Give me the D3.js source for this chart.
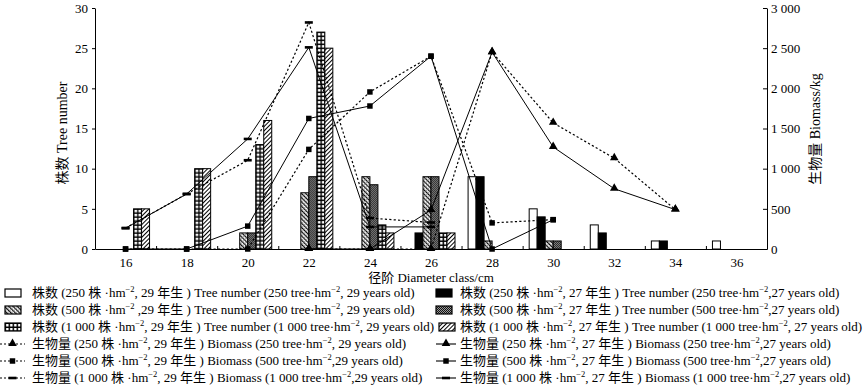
<!DOCTYPE html>
<html><head><meta charset="utf-8">
<script src="https://cdn.jsdelivr.net/npm/d3@7/dist/d3.min.js"></script>
<style>
html,body{margin:0;padding:0;background:#fff;}
svg{display:block;}
text{font-family:"Liberation Serif","Noto Sans CJK SC",serif;fill:#000;}
</style></head>
<body>
<svg id="chart" width="866" height="388"></svg>
<script>
// ---------- data ----------
const diameterClasses = [16, 18, 20, 22, 24, 26, 28, 30, 32, 34, 36];
const xMinorTicks = [17, 19, 21, 23, 25, 27, 29, 31, 33, 35];
const leftTicks = [0, 5, 10, 15, 20, 25, 30];
const rightTicks = [0, 500, 1000, 1500, 2000, 2500, 3000];

const trees250y29  = [0, 0, 0, 0, 0, 0, 9, 5, 3, 1, 1];
const trees250y27  = [0, 0, 0, 0, 0, 2, 9, 4, 2, 1, 0];
const trees500y29  = [0, 0, 2, 7, 9, 9, 1, 1, 0, 0, 0];
const trees500y27  = [0, 0, 2, 9, 8, 9, 0, 1, 0, 0, 0];
const trees1000y29 = [5, 10, 13, 27, 3, 2, 0, 0, 0, 0, 0];
const trees1000y27 = [5, 10, 16, 25, 2, 2, 0, 0, 0, 0, 0];

const biomass250y29  = [null, null, null, 0, 0, 0, 2450, 1570, 1130, 490, null];
const biomass250y27  = [null, null, null, 0, 0, 485, 2450, 1270, 750, 490, null];
const biomass500y29  = [0, 0, 0, 1240, 1955, 2400, 325, 365, null, null, null];
const biomass500y27  = [0, 0, 285, 1625, 1780, 2400, 0, 365, null, null, null];
const biomass1000y29 = [260, 685, 1105, 2820, 385, 330, null, null, null, null, null];
const biomass1000y27 = [260, 685, 1370, 2510, 275, 275, null, null, null, null, null];

const barSeries = [
  {key: "b250_29", values: trees250y29, fill: "white",
   label: "株数 (250 株 ·hm^−2^, 29 年生 ) Tree number (250 tree·hm^−2^, 29 years old)"},
  {key: "b250_27", values: trees250y27, fill: "black",
   label: "株数 (250 株 ·hm^−2^, 27 年生 ) Tree number (250  tree·hm^−2^,27 years old)"},
  {key: "b500_29", values: trees500y29, fill: "cross",
   label: "株数 (500 株 ·hm^−2^ ,29 年生 ) Tree number (500 tree·hm^−2^, 29 years old)"},
  {key: "b500_27", values: trees500y27, fill: "check",
   label: "株数 (500 株 ·hm^−2^, 27 年生 ) Tree number (500  tree·hm^−2^,27 years old)"},
  {key: "b1000_29", values: trees1000y29, fill: "brick",
   label: "株数 (1 000 株 ·hm^−2^, 29 年生 ) Tree number (1 000  tree·hm^−2^, 29 years old)"},
  {key: "b1000_27", values: trees1000y27, fill: "hatch",
   label: "株数 (1 000 株 ·hm^−2^, 27 年生 ) Tree number (1 000 tree·hm^−2^, 27 years old)"}
];
const lineSeries = [
  {key: "l250_29", values: biomass250y29, dashed: true, marker: "triangle",
   label: "生物量 (250 株 ·hm^−2^, 29 年生 ) Biomass (250 tree·hm^−2^, 29 years old)"},
  {key: "l250_27", values: biomass250y27, dashed: false, marker: "triangle",
   label: "生物量 (250 株 ·hm^−2^, 27 年生 ) Biomass (250  tree·hm^−2^,27 years old)"},
  {key: "l500_29", values: biomass500y29, dashed: true, marker: "square",
   label: "生物量 (500 株 ·hm^−2^, 29 年生 ) Biomass (500 tree·hm^−2^,29 years old)"},
  {key: "l500_27", values: biomass500y27, dashed: false, marker: "square",
   label: "生物量 (500 株 ·hm^−2^, 27 年生 ) Biomass (500  tree·hm^−2^,27 years old)"},
  {key: "l1000_29", values: biomass1000y29, dashed: true, marker: "dash",
   label: "生物量 (1 000 株 ·hm^−2^, 29 年生 ) Biomass (1 000 tree·hm^−2^,29 years old)"},
  {key: "l1000_27", values: biomass1000y27, dashed: false, marker: "dash",
   label: "生物量 (1 000 株 ·hm^−2^, 27 年生 ) Biomass (1 000  tree·hm^−2^,27 years old)"}
];

// ---------- layout ----------
const svg = d3.select("#chart");
const plot = {left: 95, right: 767, top: 8, bottom: 249};
const x = d3.scaleLinear().domain([15, 37]).range([plot.left, plot.right]);
const yL = d3.scaleLinear().domain([0, 30]).range([plot.bottom, plot.top]);
const yR = d3.scaleLinear().domain([0, 3000]).range([plot.bottom, plot.top]);
const groupWidth = (x(17) - x(15)) * 0.786;
const inner = d3.scaleBand().domain(barSeries.map(s => s.key)).range([-groupWidth / 2, groupWidth / 2]);

const defs = svg.append("defs");
let patId = 0;
function makePattern(type, ox, oy) {
  const id = "p" + (patId++);
  let p;
  if (type === "brick") {
    p = defs.append("pattern").attr("id", id).attr("patternUnits", "userSpaceOnUse")
      .attr("x", ox).attr("y", oy).attr("width", inner.bandwidth() / 2).attr("height", 4);
    p.append("rect").attr("width", inner.bandwidth() / 2).attr("height", 4).attr("fill", "#000");
    p.append("rect").attr("x", 1).attr("y", 1).attr("width", inner.bandwidth() / 2 - 1.4).attr("height", 2.5).attr("fill", "#fff");
  } else if (type === "hatch") {
    p = defs.append("pattern").attr("id", id).attr("patternUnits", "userSpaceOnUse")
      .attr("x", ox).attr("y", oy).attr("width", 3).attr("height", 3).attr("patternTransform", "rotate(45)");
    p.append("rect").attr("width", 3).attr("height", 3).attr("fill", "#fff");
    p.append("line").attr("x1", 0.5).attr("x2", 0.5).attr("y1", 0).attr("y2", 3).attr("stroke", "#000").attr("stroke-width", 1);
  } else if (type === "cross") {
    p = defs.append("pattern").attr("id", id).attr("patternUnits", "userSpaceOnUse")
      .attr("x", ox).attr("y", oy).attr("width", 3).attr("height", 3).attr("patternTransform", "rotate(-45)");
    p.append("rect").attr("width", 3).attr("height", 3).attr("fill", "#fff");
    p.append("line").attr("x1", 0.6).attr("x2", 0.6).attr("y1", 0).attr("y2", 3).attr("stroke", "#000").attr("stroke-width", 1.2);
    p.append("line").attr("x1", 0).attr("x2", 3).attr("y1", 1.5).attr("y2", 1.5).attr("stroke", "#777").attr("stroke-width", 0.6);
  } else if (type === "check") {
    p = defs.append("pattern").attr("id", id).attr("patternUnits", "userSpaceOnUse")
      .attr("x", ox).attr("y", oy).attr("width", 2).attr("height", 2);
    p.append("rect").attr("width", 2).attr("height", 2).attr("fill", "#999");
    p.append("rect").attr("width", 1).attr("height", 1).attr("fill", "#111");
    p.append("rect").attr("x", 1).attr("y", 1).attr("width", 1).attr("height", 1).attr("fill", "#111");
  }
  return "url(#" + id + ")";
}
function fillFor(type, ox, oy) {
  if (type === "white") return "#fff";
  if (type === "black") return "#000";
  return makePattern(type, ox, oy);
}

// ---------- bars ----------
const barsG = svg.append("g");
barSeries.forEach(s => {
  s.values.forEach((v, i) => {
    if (!v) return;
    const bx = x(diameterClasses[i]) + inner(s.key);
    const by = yL(v);
    barsG.append("rect")
      .attr("x", bx).attr("y", by)
      .attr("width", inner.bandwidth()).attr("height", yL(0) - by)
      .attr("fill", fillFor(s.fill, bx, by))
      .attr("stroke", "#000").attr("stroke-width", 1);
  });
});

// ---------- axes ----------
const fmtR = d => d >= 1000 ? d3.format(",")(d).replace(",", " ") : String(d);
const axL = svg.append("g").attr("transform", `translate(${plot.left},0)`)
  .call(d3.axisLeft(yL).tickValues(leftTicks).tickSizeInner(3).tickSizeOuter(0).tickPadding(4));
const axR = svg.append("g").attr("transform", `translate(${plot.right},0)`)
  .call(d3.axisRight(yR).tickValues(rightTicks).tickFormat(fmtR).tickSizeInner(-4).tickSizeOuter(0).tickPadding(4));
const axB = svg.append("g").attr("transform", `translate(0,${plot.bottom})`)
  .call(d3.axisBottom(x).tickValues(diameterClasses).tickSize(0).tickPadding(9));
const axB2 = svg.append("g").attr("transform", `translate(0,${plot.bottom})`)
  .call(d3.axisBottom(x).tickValues(xMinorTicks).tickFormat("").tickSizeInner(-3).tickSizeOuter(0));
axB2.select(".domain").remove();
[axL, axR, axB, axB2].forEach(a => {
  a.selectAll("text").attr("font-size", 13).attr("font-family", '"Liberation Serif","Noto Sans CJK SC",serif').attr("fill", "#000");
  a.selectAll("path,line").attr("stroke", "#000").attr("stroke-width", 1);
});

// ---------- lines ----------
const symTri = d3.symbol().type(d3.symbolTriangle).size(32);
const symSq = d3.symbol().type(d3.symbolSquare).size(30);
function drawMarker(g, type, cx, cy) {
  if (type === "triangle") g.append("path").attr("d", symTri()).attr("transform", `translate(${cx},${cy - 0.5})`).attr("fill", "#000");
  else if (type === "square") g.append("path").attr("d", symSq()).attr("transform", `translate(${cx},${cy})`).attr("fill", "#000");
  else g.append("rect").attr("x", cx - 4).attr("y", cy - 1.3).attr("width", 8).attr("height", 2.6).attr("fill", "#000");
}
const linesG = svg.append("g");
lineSeries.forEach(s => {
  const pts = diameterClasses.map((c, i) => [c, s.values[i]]);
  const line = d3.line().defined(d => d[1] != null).x(d => x(d[0])).y(d => yR(d[1]));
  linesG.append("path").attr("d", line(pts)).attr("fill", "none").attr("stroke", "#000")
    .attr("stroke-width", s.dashed ? 1.2 : 1).attr("stroke-dasharray", s.dashed ? "2.2,2.2" : null);
  pts.forEach(d => { if (d[1] != null) drawMarker(linesG, s.marker, x(d[0]), yR(d[1])); });
});

// ---------- axis titles ----------
svg.append("text").attr("x", (plot.left + plot.right) / 2).attr("y", 282).attr("text-anchor", "middle")
  .attr("font-size", 13).text("径阶  Diameter class/cm");
svg.append("text").attr("transform", `translate(67,133) rotate(-90)`).attr("text-anchor", "middle")
  .attr("font-size", 14).text("株数  Tree number");
svg.append("text").attr("transform", `translate(820,129) rotate(-90)`).attr("text-anchor", "middle")
  .attr("font-size", 14).text("生物量  Biomass/kg");

// ---------- legend ----------
function richText(g, str, tx, ty) {
  const t = g.append("text").attr("x", tx).attr("y", ty).attr("font-size", 13);
  const parts = str.split("^");
  parts.forEach((p, i) => {
    if (i % 2 === 1) t.append("tspan").attr("dy", -5).attr("font-size", 8.5).text(p);
    else t.append("tspan").attr("dy", i > 0 ? 5 : 0).text(p);
  });
  return t;
}
const rowY = [297, 314, 331, 348, 365, 382];
const colX = [{sym: 5, txt: 32}, {sym: 436, txt: 460}];
const leg = svg.append("g");
const legendItems = [
  {s: barSeries[0], type: "bar", row: 0, col: 0},
  {s: barSeries[1], type: "bar", row: 0, col: 1},
  {s: barSeries[2], type: "bar", row: 1, col: 0},
  {s: barSeries[3], type: "bar", row: 1, col: 1},
  {s: barSeries[4], type: "bar", row: 2, col: 0},
  {s: barSeries[5], type: "bar", row: 2, col: 1},
  {s: lineSeries[0], type: "line", row: 3, col: 0},
  {s: lineSeries[1], type: "line", row: 3, col: 1},
  {s: lineSeries[2], type: "line", row: 4, col: 0},
  {s: lineSeries[3], type: "line", row: 4, col: 1},
  {s: lineSeries[4], type: "line", row: 5, col: 0},
  {s: lineSeries[5], type: "line", row: 5, col: 1}
];
legendItems.forEach(it => {
  const cy = rowY[it.row] - 4;
  const c = colX[it.col];
  if (it.type === "bar") {
    const sx = c.sym + (it.row === 2 && it.col === 1 ? 3 : 0);
    leg.append("rect").attr("x", sx).attr("y", cy - 4).attr("width", 16).attr("height", 8)
      .attr("fill", fillFor(it.s.fill, sx, cy - 4)).attr("stroke", "#000").attr("stroke-width", 1.2);
  } else {
    const x0 = it.col === 0 ? 0 : c.sym, x1 = it.col === 0 ? 25 : c.sym + 20;
    leg.append("line").attr("x1", x0).attr("x2", x1).attr("y1", cy).attr("y2", cy).attr("stroke", "#000")
      .attr("stroke-width", it.s.dashed ? 1.2 : 1.1).attr("stroke-dasharray", it.s.dashed ? "2,2" : null);
    drawMarker(leg, it.s.marker, (x0 + x1) / 2, cy);
  }
  richText(leg, it.s.label, c.txt, rowY[it.row]);
});
</script>
</body></html>
